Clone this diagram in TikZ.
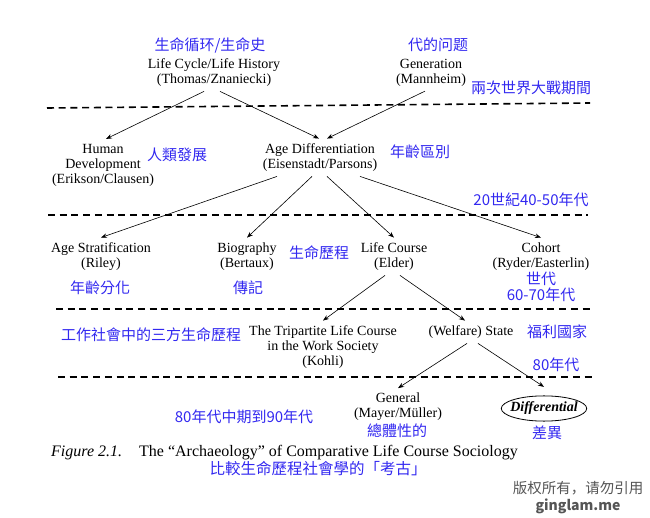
\documentclass[tikz,border=0pt]{standalone}
\usepackage{fontspec}
\setmainfont{Liberation Serif}
\newfontfamily\zhfont{Noto Sans CJK TC}
\newfontfamily\wmfont{Noto Sans CJK SC}
\usetikzlibrary{arrows.meta,shapes.geometric}
\definecolor{zhblue}{RGB}{50,40,240}
\definecolor{wmgray}{RGB}{85,85,85}

\begin{document}
\begin{tikzpicture}[x=1pt, y=-1pt, >={Stealth[length=6pt,width=4.5pt]},
		term/.style={align=center, inner sep=2pt, outer sep=3pt, font=\fontsize{14}{15}\selectfont},
		zh/.style={align=center, inner sep=1pt, text=zhblue, font=\zhfont\fontsize{15}{16}\selectfont},
		divider/.style={line width=1.6pt, dash pattern=on 7pt off 4.7pt},
		conn/.style={->, line width=0.6pt}]
				\useasboundingbox (0,0) rectangle (650,518);
				
				% 1. 时期分隔虚线
				\draw[divider] (47,108) -- (590,103);
				\draw[divider] (48,215) -- (588,215);
				\draw[divider] (56,309) -- (591,309);
				\draw[divider] (58,377) -- (594,377);
				
				% 2. 英文概念节点
				\node[term] (lifecycle) at (214,72.5) {Life Cycle/Life History\\(Thomas/Znaniecki)};
				\node[term] (generation) at (431,72.5) {Generation\\(Mannheim)};
				\node[term] (humandev) at (103,165) {Human\\Development\\(Erikson/Clausen)};
				\node[term] (agediff) at (320,157.5) {Age Differentiation\\(Eisenstadt/Parsons)};
				\node[term] (agestrat) at (101,256.5) {Age Stratification\\(Riley)};
				\node[term] (biography) at (247,256.5) {Biography\\(Bertaux)};
				\node[term] (lifecourse) at (394,256.5) {Life Course\\(Elder)};
				\node[term] (cohort) at (541,256.5) {Cohort\\(Ryder/Easterlin)};
				\node[term] (tripartite) at (323,347) {The Tripartite Life Course\\in the Work Society\\(Kohli)};
				\node[term] (state) at (471,332) {(Welfare) State};
				\node[term] (general) at (398,407) {General\\(Mayer/Müller)};
				\node[term, ellipse, draw, line width=0.8pt, inner xsep=-3.5pt, inner ysep=2.5pt, outer sep=0pt,
					font=\fontsize{14}{15}\selectfont\bfseries\itshape] (differential) at (544,408.5) {Differential};
				
				% 3. 中文标注
				\node[zh] (zlifecycle) at (210,45) {生命循环/生命史};
				\node[zh] (zgeneration) at (438,45) {代的问题};
				\node[zh] (interwar) at (531,88) {兩次世界大戰期間};
				\node[zh] (zhumandev) at (177,155) {人類發展};
				\node[zh] (zagediff) at (420,152) {年齡區別};
				\node[zh] (era1) at (531,200) {20世紀40-50年代};
				\node[zh] (zagestrat) at (100,288) {年齡分化};
				\node[zh] (zbiography) at (248,288) {傳記};
				\node[zh] (zlifecourse) at (319,253) {生命歷程};
				\node[zh] (zcohort) at (541,287) {世代\\60-70年代};
				\node[zh] (ztripartite) at (151,335) {工作社會中的三方生命歷程};
				\node[zh] (zstate) at (557,332) {福利國家};
				\node[zh] (era2) at (556,365) {80年代};
				\node[zh] (era3) at (244,417) {80年代中期到90年代};
				\node[zh] (zgeneral) at (397,431) {總體性的};
				\node[zh] (zdifferential) at (547,433) {差異};
				
				% 4. 箭头
				\draw[conn] ([xshift=-10pt]lifecycle.south) -- ([xshift=3pt]humandev.north);
				\draw[conn] ([xshift=6pt]lifecycle.south) -- ([xshift=-1pt]agediff.north);
				\draw[conn] ([xshift=-6pt]generation.south) -- ([xshift=7pt]agediff.north);
				\draw[conn] ([xshift=-43pt]agediff.south) -- (agestrat.north);
				\draw[conn] ([xshift=-8pt]agediff.south) -- (biography.north);
				\draw[conn] ([xshift=7pt]agediff.south) -- (lifecourse.north);
				\draw[conn] ([xshift=40pt]agediff.south) -- (cohort.north);
				\draw[conn] ([xshift=-9pt]lifecourse.south) -- (tripartite.north);
				\draw[conn] ([xshift=6pt]lifecourse.south) -- ([xshift=-6pt]state.north);
				\draw[conn] ([xshift=-4pt]state.south) -- (general.north);
				\draw[conn] ([xshift=7pt]state.south) -- ([yshift=9pt]differential.north);
				
				% 5. 图题与水印
				\node[anchor=base west, inner sep=0pt, font=\fontsize{16}{18}\selectfont\itshape] (fignum) at (51,456) {Figure 2.1.};
				\node[anchor=base west, inner sep=0pt, font=\fontsize{16}{18}\selectfont] (figtitle) at (139,456) {The “Archaeology” of Comparative Life Course Sociology};
				\node[zh, font=\zhfont\fontsize{15.5}{17}\selectfont] (zfigtitle) at (318,469) {比較生命歷程社會學的「考古」};
				\node[text=wmgray, font=\wmfont\fontsize{14.5}{16}\selectfont] (copyright) at (578,488) {版权所有，请勿引用};
				\node[text=wmgray, font=\wmfont\fontsize{14}{16}\selectfont\bfseries] (site) at (578,506) {ginglam.me};
			\end{tikzpicture}
\end{document}
